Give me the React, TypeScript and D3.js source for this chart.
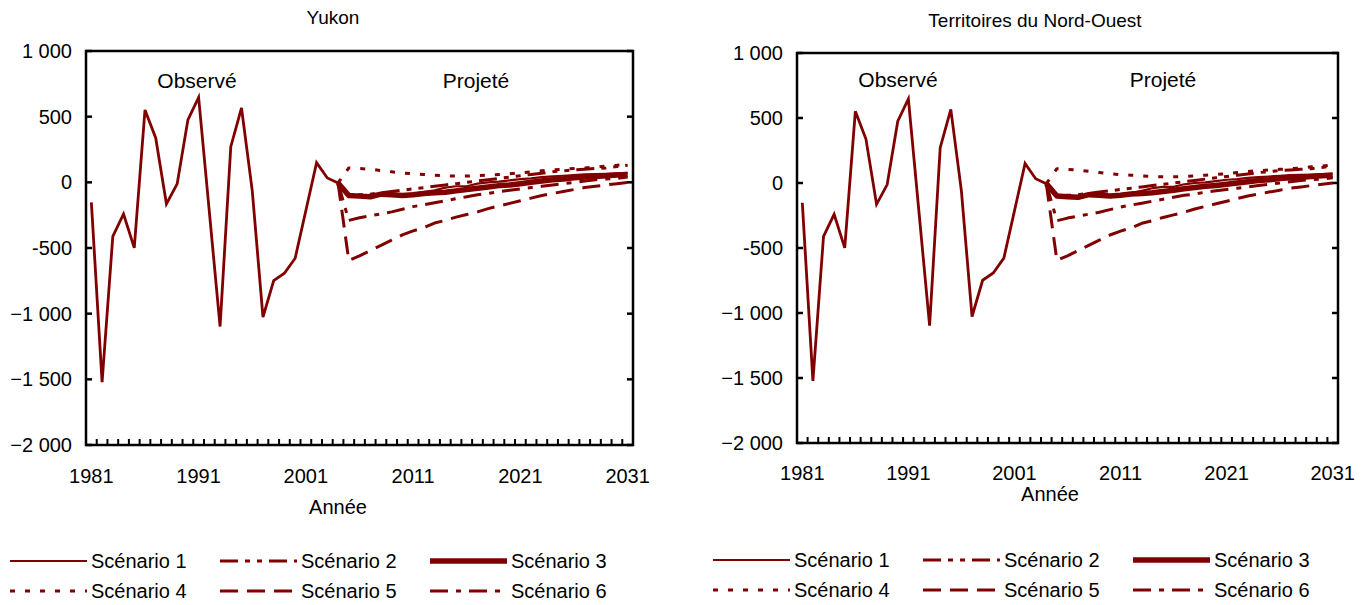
import React from "react";
import * as d3 from "d3";

const years: number[] = d3.range(1981, 2032);
const observedYears: number[] = d3.range(1981, 2005);
const observed: number[] = [-152, -1522, -411, -241, -499, 551, 338, -164, -12, 475, 647, -225, -1098, 272, 566, -63, -1027, -748, -692, -578, -214, 150, 33, -5];
const projYears: number[] = d3.range(2004, 2032);
const scen1: number[] = [-5, -95, -100, -105, -85, -90, -95, -85, -75, -60, -40, -30, -30, -10, 0, 5, 15, 25, 30, 40, 45, 50, 55, 60, 62, 65, 68, 72];
const scen2: number[] = [-5, -95, -95, -90, -80, -70, -60, -50, -40, -30, -20, -10, 0, 10, 20, 30, 40, 50, 60, 70, 80, 88, 95, 100, 105, 110, 120, 130];
const scen3: number[] = [-5, -100, -105, -110, -90, -95, -100, -95, -85, -80, -75, -65, -55, -45, -35, -25, -20, -10, 0, 10, 20, 25, 35, 40, 45, 50, 55, 60];
const scen4: number[] = [-5, 110, 105, 100, 90, 80, 70, 65, 60, 55, 50, 48, 48, 50, 55, 60, 65, 72, 80, 88, 95, 100, 105, 110, 115, 125, 130, 140];
const scen5: number[] = [-5, -595, -560, -520, -480, -440, -400, -370, -345, -310, -290, -265, -245, -225, -200, -180, -160, -140, -120, -100, -85, -70, -55, -40, -30, -20, -10, 0];
const scen6: number[] = [-5, -290, -270, -255, -240, -225, -205, -185, -170, -155, -140, -125, -110, -95, -85, -70, -60, -50, -40, -30, -20, -10, 0, 10, 20, 25, 30, 40];
const yTicks: number[] = [1000, 500, 0, -500, -1000, -1500, -2000];
const xLabels: number[] = [1981, 1991, 2001, 2011, 2021, 2031];
const scenarioNames: string[] = ["Scénario 1", "Scénario 2", "Scénario 3", "Scénario 4", "Scénario 5", "Scénario 6"];
const titles: string[] = ["Yukon", "Territoires du Nord-Ouest"];

const COLOR = "#800000";
const FONT = "'Liberation Sans', Arial, Helvetica, sans-serif";

const styles = [
  { w: 2.2, dash: "" },
  { w: 3, dash: "18,7,5,7,5,7" },
  { w: 5.5, dash: "" },
  { w: 3, dash: "5,10" },
  { w: 3, dash: "18,9" },
  { w: 3, dash: "18,8,5,8" },
];
const series = [scen1, scen2, scen3, scen4, scen5, scen6];

const fmt = (v: number) => (Math.abs(v) >= 1000 ? d3.format(",")(v).replace(",", " ") : String(v));

type PanelCfg = {
  title: string;
  titleX: number;
  titleY: number;
  x0: number;
  x1: number;
  y0: number;
  y1: number;
  xLabelY: number;
  anneeX: number;
  anneeY: number;
  obsX: number;
  projX: number;
  labY: number;
  legX: number;
  legY: number;
};

function Panel({ c }: { c: PanelCfg }) {
  const x = d3.scalePoint<number>().domain(years).range([c.x0, c.x1]).padding(0.5);
  const band = d3.scaleBand<number>().domain(years).range([c.x0, c.x1]);
  const y = d3.scaleLinear().domain([-2000, 1000]).range([c.y1, c.y0]);
  const line = d3
    .line<[number, number]>()
    .x((d) => x(d[0]) as number)
    .y((d) => y(d[1]));
  const obsPts: [number, number][] = observedYears.map((yr, i) => [yr, observed[i]]);
  const order = [4, 5, 3, 1, 0, 2];
  const colW = [0, 210, 420];
  return (
    <g>
      <text x={c.titleX} y={c.titleY} dy="0.35em" textAnchor="middle" fontSize={19} fontFamily={FONT}>
        {c.title}
      </text>
      {yTicks.map((t) => (
        <g key={t}>
          <line x1={c.x0} x2={c.x0 + 6} y1={y(t)} y2={y(t)} stroke="#000" strokeWidth={2.5} />
          <line x1={c.x1} x2={c.x1 - 6} y1={y(t)} y2={y(t)} stroke="#000" strokeWidth={2.5} />
          <text x={c.x0 - 14} y={y(t)} dy="0.35em" textAnchor="end" fontSize={20} fontFamily={FONT}>
            {fmt(t)}
          </text>
        </g>
      ))}
      {years.slice(1).map((yr) => (
        <line key={yr} x1={band(yr)} x2={band(yr)} y1={c.y1} y2={c.y1 - 6} stroke="#000" strokeWidth={2} />
      ))}
      {xLabels.map((yr) => (
        <text key={yr} x={x(yr)} y={c.xLabelY} dy="0.35em" textAnchor="middle" fontSize={20} fontFamily={FONT}>
          {yr}
        </text>
      ))}
      <text x={c.anneeX} y={c.anneeY} dy="0.35em" textAnchor="middle" fontSize={20} fontFamily={FONT}>
        Année
      </text>
      <text x={c.obsX} y={c.labY} dy="0.35em" textAnchor="middle" fontSize={21} fontFamily={FONT}>
        Observé
      </text>
      <text x={c.projX} y={c.labY} dy="0.35em" textAnchor="middle" fontSize={21} fontFamily={FONT}>
        Projeté
      </text>
      {order.map((si) => {
        const pts: [number, number][] = projYears.map((yr, i) => [yr, series[si][i]]);
        return (
          <path
            key={si}
            d={line(pts) || ""}
            fill="none"
            stroke={COLOR}
            strokeWidth={styles[si].w}
            strokeDasharray={styles[si].dash}
            strokeLinejoin="round"
          />
        );
      })}
      <path d={line(obsPts) || ""} fill="none" stroke={COLOR} strokeWidth={2.8} />
      <rect x={c.x0} y={c.y0} width={c.x1 - c.x0} height={c.y1 - c.y0} fill="none" stroke="#000" strokeWidth={2.5} />
      {scenarioNames.map((nm, i) => {
        const col = i % 3;
        const row = Math.floor(i / 3);
        const lx = c.legX + colW[col];
        const ly = c.legY + row * 30;
        return (
          <g key={nm}>
            <line x1={lx} x2={lx + 77} y1={ly} y2={ly} stroke={COLOR} strokeWidth={styles[i].w} strokeDasharray={styles[i].dash} />
            <text x={lx + 81} y={ly} dy="0.35em" fontSize={20} fontFamily={FONT}>
              {nm}
            </text>
          </g>
        );
      })}
    </g>
  );
}

const panels: PanelCfg[] = [
  { title: titles[0], titleX: 333, titleY: 17, x0: 86, x1: 633, y0: 51, y1: 445, xLabelY: 476, anneeX: 338, anneeY: 507, obsX: 197, projX: 476, labY: 81, legX: 10, legY: 561 },
  { title: titles[1], titleX: 1035, titleY: 20, x0: 797, x1: 1338, y0: 53, y1: 443, xLabelY: 473, anneeX: 1050, anneeY: 494, obsX: 898, projX: 1163, labY: 80, legX: 713, legY: 560 },
];

export default function App() {
  return (
    <svg width={1368} height={605} style={{ position: "absolute", left: 0, top: 0, background: "#fff" }}>
      <rect width={1368} height={605} fill="#fff" />
      {panels.map((p) => (
        <Panel key={p.title} c={p} />
      ))}
    </svg>
  );
}
